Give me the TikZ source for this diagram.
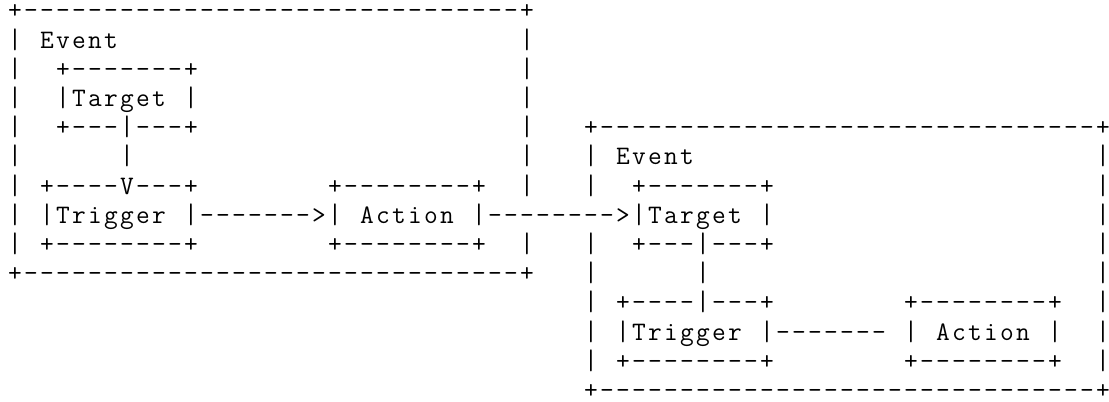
\documentclass[tikz,border=0pt]{standalone}
\usepackage{fontspec}
\setmonofont{Latin Modern Mono}

% one character cell: 16 units wide, rows 29.2 units apart (1 unit = 0.75pt)
\tikzset{
  glyph/.style={font=\ttfamily\fontsize{20}{20}\selectfont, inner sep=0pt,
                anchor=base, text=black, text depth=0pt}
}
\newcommand\glyphat[3]{\node[glyph] (g#1-#2) at ({15+16*#2},{18.9+29.2*#1}) {#3};}
% vertical bars are lengthened a little so that stacked bars read as a line
\newcommand\barat[2]{\node[glyph] (g#1-#2) at ({15+16*#2},{18.9+29.2*#1}) {\scalebox{1}[1.06]{|}};}

% \ascrow{row}{first column}{characters}: sets a run of characters on the grid,
% spaces kept as empty cells
\ExplSyntaxOn
\int_new:N \l_asc_col_int
\cs_new_protected:Npn \asc_row:nnn #1#2#3
  {
    \int_set:Nn \l_asc_col_int {#2}
    \str_map_inline:nn {#3}
      {
        \tl_if_blank:nF {##1}
          {
            \str_if_eq:nnTF {##1} {|}
              { \use:e { \exp_not:N \barat {#1} { \int_use:N \l_asc_col_int } } }
              { \use:e { \exp_not:N \glyphat {#1} { \int_use:N \l_asc_col_int } { \exp_not:n {##1} } } }
          }
        \int_incr:N \l_asc_col_int
      }
  }
\cs_new_protected:Npn \ascrowaux #1#2#3 { \asc_row:nnn {#1} {#2} {#3} \group_end: }
\cs_new_protected:Npn \ascrow { \group_begin: \char_set_catcode_other:n {32} \ascrowaux }
\ExplSyntaxOff

\begin{document}
\begin{tikzpicture}[x=0.75pt, y=-0.75pt]
\useasboundingbox (0,0) rectangle (1109,401);

% first event
\ascrow{0}{0}{+-------------------------------+}
\ascrow{1}{0}{| Event}
\ascrow{1}{32}{|}
\ascrow{2}{0}{|  +-------+}
\ascrow{2}{32}{|}
\ascrow{3}{0}{|  |Target |}
\ascrow{3}{32}{|}
\ascrow{4}{0}{|  +---|---+}
\ascrow{4}{32}{|}
\ascrow{5}{0}{|      |}
\ascrow{5}{32}{|}
\ascrow{6}{0}{| +----V---+}
\ascrow{6}{20}{+--------+}
\ascrow{6}{32}{|}
\ascrow{7}{0}{| |Trigger |------->| Action |------}
\ascrow{8}{0}{| +--------+}
\ascrow{8}{20}{+--------+}
\ascrow{8}{32}{|}
\ascrow{9}{0}{+-------------------------------+}

% second event
\ascrow{4}{36}{+-------------------------------+}
\ascrow{5}{36}{| Event}
\ascrow{5}{68}{|}
\ascrow{6}{36}{|  +-------+}
\ascrow{6}{68}{|}
\ascrow{7}{36}{-->|Target |}
\ascrow{7}{68}{|}
\ascrow{8}{36}{|  +---|---+}
\ascrow{8}{68}{|}
\ascrow{9}{36}{|      |}
\ascrow{9}{68}{|}
\ascrow{10}{36}{| +----|---+}
\ascrow{10}{56}{+--------+}
\ascrow{10}{68}{|}
\ascrow{11}{36}{| |Trigger |------- | Action |}
\ascrow{11}{68}{|}
\ascrow{12}{36}{| +--------+}
\ascrow{12}{56}{+--------+}
\ascrow{12}{68}{|}
\ascrow{13}{36}{+-------------------------------+}
\end{tikzpicture}
\end{document}
